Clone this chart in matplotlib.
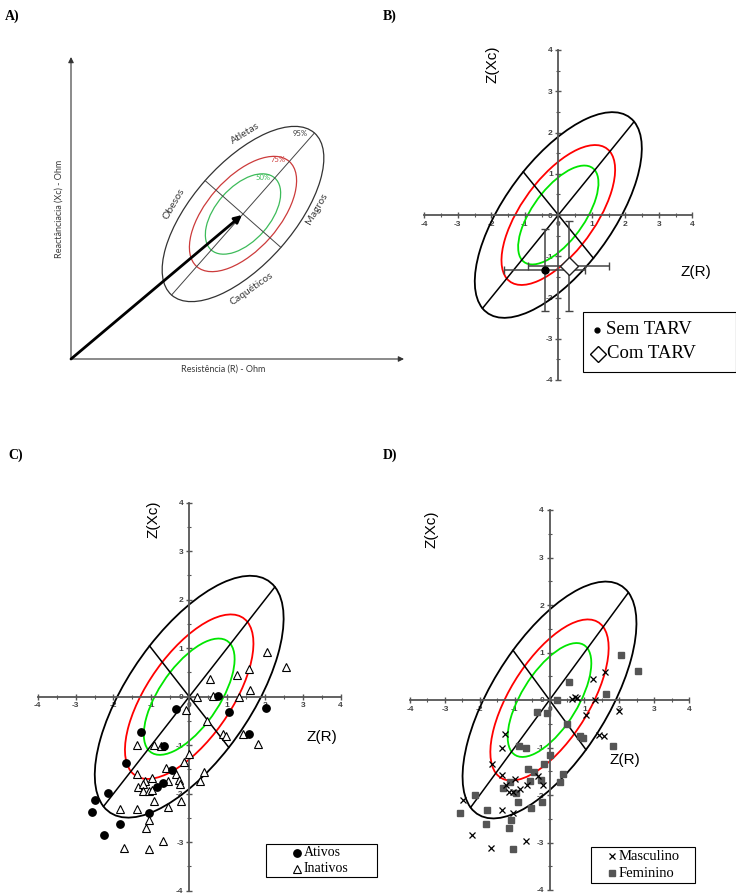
import numpy as np
import matplotlib.pyplot as plt
from matplotlib.patches import Ellipse, Rectangle

plt.rcParams['axes.unicode_minus'] = False
plt.rcParams['font.family'] = ['Liberation Sans', 'DejaVu Sans']

# B) mean Z scores (and SD) by treatment
grupos_b = ['Sem TARV', 'Com TARV']
zr_b = [-0.40, 0.31]
zxc_b = [-1.33, -1.23]
sd_zr_b = [1.21, 1.20]
sd_zxc_b = [0.99, 1.09]

# C) physical activity
ativos_zr = [0.77, -0.35, 1.04, 2.02, -1.28, -0.66, 1.57, -1.67, -0.46, -0.68,
             -0.84, -2.15, -2.50, -2.57, -1.07, -1.82, -2.25]
ativos_zxc = [0.02, -0.25, -0.32, -0.24, -0.72, -1.02, -0.77, -1.37, -1.52, -1.78,
              -1.87, -1.99, -2.12, -2.38, -2.40, -2.63, -2.85]
inativos_zr = [2.05, 2.55, 1.58, 1.26, 0.54, 1.61, 0.21, 0.64, 1.32, -0.08,
               0.48, 0.89, 0.98, 1.42, 1.81, -1.38, -0.92, -0.75, -0.01, -0.15,
               -0.62, -1.38, 0.38, -0.35, -0.99, -1.16, -0.55, -0.28, 0.29, -1.36,
               -1.23, -0.24, -1.21, -1.07, -0.99, -0.92, -0.21, -0.55, -1.82, -1.38,
               -1.07, -1.15, -0.70, -1.71, -1.06]
inativos_zxc = [0.93, 0.61, 0.58, 0.44, 0.37, 0.13, -0.01, 0.01, -0.01, -0.28,
                -0.51, -0.77, -0.82, -0.77, -0.98, -1.00, -1.00, -1.01, -1.18, -1.35,
                -1.46, -1.59, -1.56, -1.59, -1.68, -1.73, -1.73, -1.71, -1.73, -1.87,
                -1.81, -1.80, -1.95, -1.95, -1.92, -2.16, -2.16, -2.28, -2.32, -2.32,
                -2.54, -2.71, -2.98, -3.11, -3.14]

# D) sex
masc_zr = [1.60, 1.26, 0.64, 0.73, 0.80, 1.31, 2.00, 1.04, 1.43, 1.56,
           -1.27, -1.36, -1.66, -1.36, -0.99, -1.26, -1.17, -0.85, -0.65, -0.34,
           -0.20, -1.06, -2.47, -1.36, -1.04, -2.23, -1.69, -0.68]
masc_zxc = [0.58, 0.44, 0.03, 0.06, 0.04, 0.00, -0.23, -0.32, -0.74, -0.76,
            -0.72, -1.00, -1.35, -1.57, -1.67, -1.78, -1.94, -1.87, -1.78, -1.59,
            -1.78, -1.94, -2.11, -2.31, -2.38, -2.85, -3.11, -2.97]
fem_zr = [2.04, 2.54, 0.55, 1.61, 0.21, -0.35, -0.06, 0.49, 0.87, 0.97,
          1.81, -0.87, -0.67, 0.00, -0.15, -0.61, -0.45, 0.38, -1.13, -0.56,
          -0.25, 0.30, -1.34, -0.97, -2.13, -0.89, -0.21, -0.54, -2.56, -1.80,
          -1.09, -1.81, -1.15, -1.06]
fem_zxc = [0.94, 0.62, 0.37, 0.13, -0.01, -0.25, -0.27, -0.51, -0.76, -0.81,
           -0.96, -0.97, -1.02, -1.16, -1.35, -1.45, -1.52, -1.55, -1.73, -1.71,
           -1.68, -1.73, -1.86, -1.95, -1.99, -2.15, -2.15, -2.28, -2.37, -2.31,
           -2.52, -2.62, -2.69, -3.13]

# tolerance ellipses (semi axes of the 95% one, Z units) and chi2 quantiles
A95, B95 = 3.2, 1.48
niveis = [(5.991, 'black'), (2.773, 'red'), (1.386, '#00e600')]

W, H = 736, 893
fig = plt.figure(figsize=(W / 100, H / 100), dpi=100)


def px_axes(x0, y0, x1, y1):
    return fig.add_axes([x0 / W, 1 - y1 / H, (x1 - x0) / W, (y1 - y0) / H])


def rxc_axes(ax):
    ax.set_facecolor('none')
    ax.set_xlim(-4, 4)
    ax.set_ylim(-4, 4)
    for s in ['top', 'right']:
        ax.spines[s].set_visible(False)
    for s in ['left', 'bottom']:
        ax.spines[s].set_position(('data', 0))
        ax.spines[s].set_color('#555555')
        ax.spines[s].set_linewidth(1.3)
    ax.set_xticks(range(-4, 5))
    ax.set_yticks(range(-4, 5))
    ax.set_xticks(np.arange(-4, 4.5, 0.5), minor=True)
    ax.set_yticks(np.arange(-4, 4.5, 0.5), minor=True)
    ax.tick_params(which='major', direction='inout', length=4, width=1,
                   colors='#555555', labelsize=6, labelcolor='#444444', pad=2)
    ax.tick_params(which='minor', direction='inout', length=3, width=0.8,
                   colors='#555555')
    for lab in ax.get_xticklabels() + ax.get_yticklabels():
        lab.set_fontweight('bold')
    for q, cor in niveis:
        s = np.sqrt(q / 5.991)
        ax.add_patch(Ellipse((0, 0), 2 * A95 * s, 2 * B95 * s, angle=45,
                             fill=False, ec=cor, lw=1.3, zorder=2))
    d1 = A95 / np.sqrt(2)
    d2 = B95 / np.sqrt(2)
    ax.plot([-d1, d1], [-d1, d1], color='black', lw=1.1, zorder=2)
    ax.plot([-d2, d2], [d2, -d2], color='black', lw=1.1, zorder=2)


# ---------- B ----------
axb = px_axes(424.3, 50, 692.3, 380)
rxc_axes(axb)
axb.errorbar(zr_b[0], zxc_b[0], xerr=sd_zr_b[0], yerr=sd_zxc_b[0], fmt='o',
             color='black', ms=5, ecolor='#444444', elinewidth=1.1, capsize=3, zorder=4)
axb.errorbar(zr_b[1], zxc_b[1], xerr=sd_zr_b[1], yerr=sd_zxc_b[1], fmt='D',
             mfc='white', mec='#222222', mew=1, ms=9, ecolor='#444444',
             elinewidth=1.1, capsize=3, zorder=4)
axb.text(-1.95, 3.66, 'Z(Xc)', rotation=90, fontsize=11, ha='center', va='center')
axb.text(4.11, -1.38, 'Z(R)', fontsize=11, ha='center', va='center', clip_on=False)

# ---------- C ----------
axc = px_axes(37.7, 502.7, 340.7, 890.7)
rxc_axes(axc)
axc.plot(inativos_zr, inativos_zxc, '^', mfc='white', mec='black', ms=5.5, mew=0.8,
         zorder=4, clip_on=False)
axc.plot(ativos_zr, ativos_zxc, 'o', color='black', ms=5.3, zorder=5, clip_on=False)
axc.text(-0.955, 3.65, 'Z(Xc)', rotation=90, fontsize=11, ha='center', va='center')
axc.text(3.5, -0.84, 'Z(R)', fontsize=11, ha='center', va='center')

# ---------- D ----------
axd = px_axes(410, 510, 689, 890)
rxc_axes(axd)
axd.plot(fem_zr, fem_zxc, 's', color='#555555', ms=4.5, zorder=4, clip_on=False)
axd.plot(masc_zr, masc_zxc, 'x', color='black', ms=5, mew=0.9, zorder=5, clip_on=False)
axd.text(-3.38, 3.59, 'Z(Xc)', rotation=90, fontsize=11, ha='center', va='center')
axd.text(2.15, -1.27, 'Z(R)', fontsize=11, ha='center', va='center')

# ---------- overlay (panel A, panel letters, legend boxes) in pixel units ----------
ov = fig.add_axes([0, 0, 1, 1])
ov.set_xlim(0, W)
ov.set_ylim(H, 0)
ov.axis('off')
ov.set_facecolor('none')

serif = ['Liberation Serif', 'DejaVu Serif']
for lab, x, y in [('A)', 5, 16), ('B)', 383, 16), ('C)', 8, 455), ('D)', 383, 455)]:
    ov.text(x, y, lab, fontsize=10, fontweight='bold', family=serif, ha='left', va='center')

# panel A: schematic
ox, oy = 71, 359
cx, cy = 243, 214
ang = 48.6
u = np.array([np.cos(np.radians(ang)), -np.sin(np.radians(ang))])
v = np.array([np.sin(np.radians(ang)), np.cos(np.radians(ang))])
arw = dict(arrowstyle='-|>', color='#333333', lw=0.8, mutation_scale=8, shrinkA=0, shrinkB=0)
ov.annotate('', xy=(ox, 57), xytext=(ox, oy), arrowprops=arw)
ov.annotate('', xy=(404, oy), xytext=(ox, oy), arrowprops=arw)
for (a, b), cor in zip([(108, 50.5), (70, 36), (48, 27)], ['#333333', '#cc3b3b', '#3dbb5a']):
    ov.add_patch(Ellipse((cx, cy), 2 * a, 2 * b, angle=-ang, fill=False, ec=cor, lw=0.9))
p1 = np.array([cx, cy]) - 108 * u
p2 = np.array([cx, cy]) + 108 * u
ov.plot([p1[0], p2[0]], [p1[1], p2[1]], color='#444444', lw=0.7)
q1 = np.array([cx, cy]) - 50.5 * v
q2 = np.array([cx, cy]) + 50.5 * v
ov.plot([q1[0], q2[0]], [q1[1], q2[1]], color='#444444', lw=0.7)
ov.annotate('', xy=(cx - 1, cy + 1), xytext=(ox, oy),
            arrowprops=dict(arrowstyle='-|>', color='black', lw=2, mutation_scale=11,
                            shrinkA=0, shrinkB=0))
cal = ['Lato', 'DejaVu Sans']
gc = '#3a3a3a'
ov.text(59, 209, 'Reactânciacia (Xc) - Ohm', rotation=90, fontsize=6.5, family=cal,
        color=gc, ha='center', va='center')
ov.text(223, 369, 'Resistência (R) - Ohm', fontsize=6.5, family=cal, color=gc,
        ha='center', va='center')
ov.text(245, 133, 'Atletas', rotation=32, fontsize=7.5, family=cal, color=gc, ha='center', va='center')
ov.text(252, 289, 'Caquéticos', rotation=35, fontsize=7.5, family=cal, color=gc, ha='center', va='center')
ov.text(174, 204, 'Obesos', rotation=60, fontsize=7.5, family=cal, color=gc, ha='center', va='center')
ov.text(317, 209, 'Magros', rotation=60, fontsize=7.5, family=cal, color=gc, ha='center', va='center')
ov.text(300, 133, '95%', fontsize=5.5, family=cal, color=gc, ha='center', va='center')
ov.text(278, 159, '75%', fontsize=5.5, family=cal, color='#cc3b3b', ha='center', va='center')
ov.text(263, 178, '50%', fontsize=5.5, family=cal, color='#3dbb5a', ha='center', va='center')

# legend boxes
ov.add_patch(Rectangle((583, 312), 152.5, 60, fc='white', ec='black', lw=0.8, zorder=6))
ov.plot(597, 330, 'o', color='black', ms=3.5, zorder=7)
ov.plot(598, 354, 'D', mfc='white', mec='black', mew=1, ms=8, zorder=7)
ov.text(606, 330, grupos_b[0], fontsize=13.5, family=serif, ha='left', va='center', zorder=7)
ov.text(607, 354, grupos_b[1], fontsize=13.5, family=serif, ha='left', va='center', zorder=7)

ov.add_patch(Rectangle((265.7, 844), 111.6, 33, fc='white', ec='black', lw=0.8, zorder=6))
ov.plot(296.7, 852.7, 'o', color='black', ms=5.3, zorder=7)
ov.plot(296.7, 869, '^', mfc='white', mec='black', ms=5.5, mew=0.8, zorder=7)
ov.text(304, 852.7, 'Ativos', fontsize=10, family=serif, ha='left', va='center', zorder=7)
ov.text(304, 869, 'Inativos', fontsize=10, family=serif, ha='left', va='center', zorder=7)

ov.add_patch(Rectangle((591.3, 846.7), 104, 36, fc='white', ec='black', lw=0.8, zorder=6))
ov.plot(612.3, 856, 'x', color='black', ms=5, mew=0.9, zorder=7)
ov.plot(612.3, 873.3, 's', color='#555555', ms=4.5, zorder=7)
ov.text(618.3, 856, 'Masculino', fontsize=10.5, family=serif, ha='left', va='center', zorder=7)
ov.text(618.3, 873.3, 'Feminino', fontsize=10.5, family=serif, ha='left', va='center', zorder=7)

fig.savefig('out.png', dpi=100)
